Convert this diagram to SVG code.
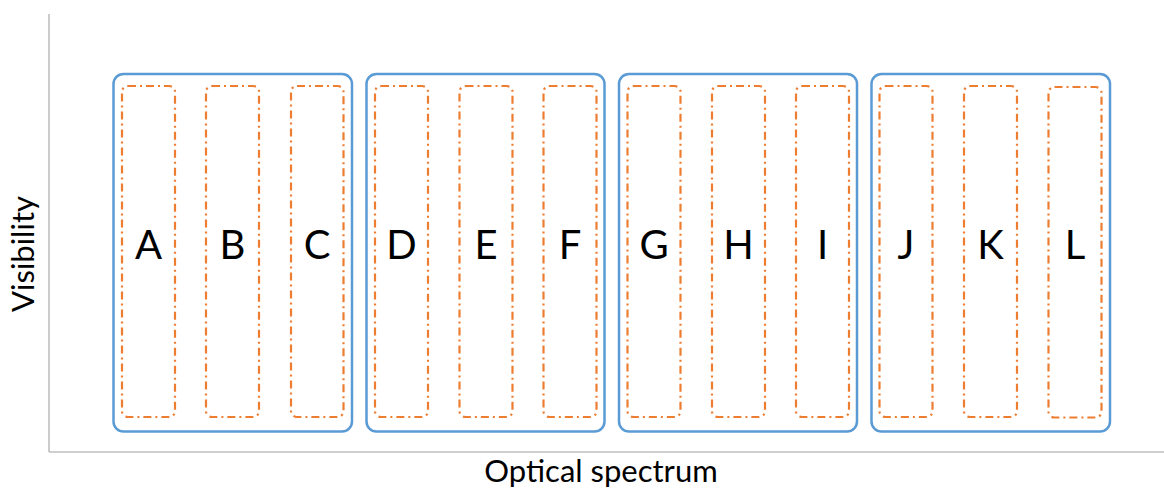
<svg xmlns="http://www.w3.org/2000/svg" width="1164" height="489" viewBox="0 0 1164 489">
<style>
.axis{stroke:#BFBFBF;stroke-width:1.6;fill:none}
.grp{fill:none;stroke:#5B9BD5;stroke-width:2.5}
.band{fill:none;stroke:#ED7D31;stroke-width:2.2;stroke-dasharray:8 4 2 4}
.lbl{font-family:Lato,"Liberation Sans",sans-serif;font-size:40px;fill:#000;text-anchor:middle}
.ax{font-family:Lato,"Liberation Sans",sans-serif;font-size:31px;fill:#000;text-anchor:middle}
</style>
<rect width="1164" height="489" fill="#fff"/>
<g id="axes">
<line class="axis" x1="49" y1="14" x2="49" y2="452"/>
<line class="axis" x1="49" y1="452" x2="1164" y2="452"/>
<text class="ax" x="601" y="482">Optical spectrum</text>
<text class="ax" transform="translate(34,254) rotate(-90)">Visibility</text>
</g>
<g id="group1"><rect class="grp" x="113.5" y="74" width="238.5" height="357.5" rx="10"/></g>
<g id="group2"><rect class="grp" x="366.5" y="74" width="238" height="357.5" rx="10"/></g>
<g id="group3"><rect class="grp" x="619" y="74" width="238" height="357.5" rx="10"/></g>
<g id="group4"><rect class="grp" x="871.5" y="74" width="238.5" height="357.5" rx="10"/></g>
<g id="A"><rect class="band" x="122" y="86" width="53" height="331" rx="6"/><text class="lbl" x="148.5" y="259">A</text></g>
<g id="B"><rect class="band" x="206" y="86" width="53" height="331" rx="6"/><text class="lbl" x="232.5" y="259">B</text></g>
<g id="C"><rect class="band" x="291" y="86" width="52.5" height="331" rx="6"/><text class="lbl" x="317" y="259">C</text></g>
<g id="D"><rect class="band" x="375" y="86" width="53" height="331" rx="6"/><text class="lbl" x="401.5" y="259">D</text></g>
<g id="E"><rect class="band" x="459.5" y="86" width="53" height="331" rx="6"/><text class="lbl" x="486" y="259">E</text></g>
<g id="F"><rect class="band" x="543.5" y="86" width="53" height="331" rx="6"/><text class="lbl" x="570" y="259">F</text></g>
<g id="G"><rect class="band" x="627.5" y="86" width="53" height="331" rx="6"/><text class="lbl" x="654" y="259">G</text></g>
<g id="H"><rect class="band" x="712" y="86" width="53" height="331" rx="6"/><text class="lbl" x="738.5" y="259">H</text></g>
<g id="I"><rect class="band" x="796" y="86" width="53" height="331" rx="6"/><text class="lbl" x="822.5" y="259">I</text></g>
<g id="J"><rect class="band" x="879.5" y="86" width="53" height="331" rx="6"/><text class="lbl" x="906" y="259">J</text></g>
<g id="K"><rect class="band" x="964" y="86" width="53" height="331" rx="6"/><text class="lbl" x="990.5" y="259">K</text></g>
<g id="L"><rect class="band" x="1048.5" y="87" width="53" height="330.5" rx="6"/><text class="lbl" x="1075" y="259">L</text></g>
</svg>
